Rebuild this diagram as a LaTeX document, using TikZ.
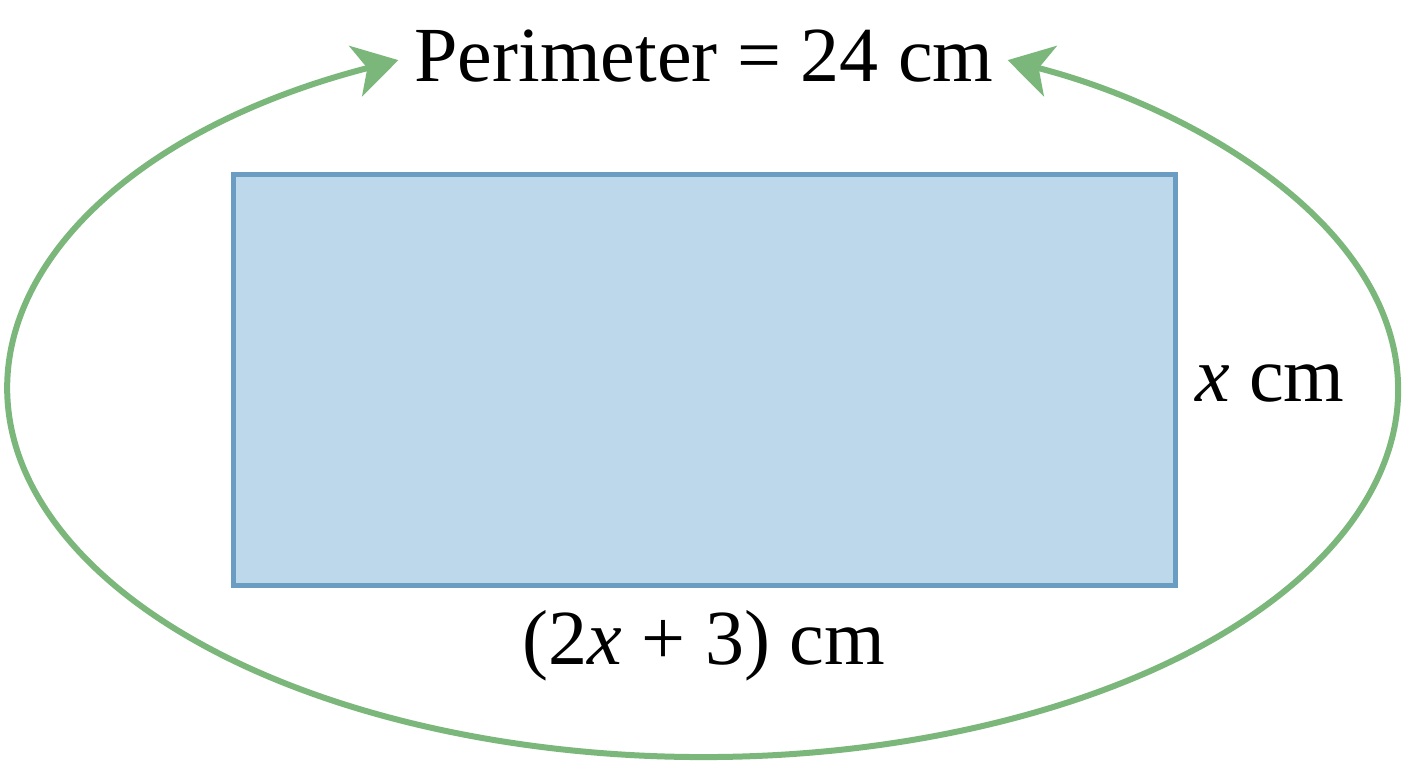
\documentclass[tikz,border=0pt]{standalone}
\usepackage{fontspec}
\setmainfont{Liberation Serif}
\usetikzlibrary{arrows.meta}
\definecolor{rectfill}{HTML}{BED8EB}
\definecolor{rectdraw}{HTML}{6B9DC2}
\definecolor{perigreen}{HTML}{7BB77B}
\begin{document}
\begin{tikzpicture}[x=1pt,y=1pt,
  lbl/.style={anchor=base,inner sep=0pt,font=\fontsize{78}{90}\selectfont},
  rectbox/.style={draw=rectdraw,fill=rectfill,line width=5pt,minimum width=942pt,minimum height=411pt,inner sep=0pt},
  perim/.style={draw=perigreen,line width=6pt,{Stealth[length=44pt,width=52pt,inset=12pt]}-{Stealth[length=44pt,width=52pt,inset=12pt]}}]
\useasboundingbox[fill=white] (0,0) rectangle (1408,768);
\node[rectbox] (rect) at (704,387.5) {};
\node[lbl] (per) at (704,686) {Perimeter = 24 cm};
\node[lbl,anchor=base west] (side) at (1195,366) {\textit{x} cm};
\node[lbl] (base) at (704,103) {(2\textit{x} + 3) cm};
\coordinate (c) at (703,378);
\draw[perim] ([shift={(116:695 and 367)}]c) arc[start angle=116,end angle=424,x radius=695,y radius=367];
\end{tikzpicture}
\end{document}
